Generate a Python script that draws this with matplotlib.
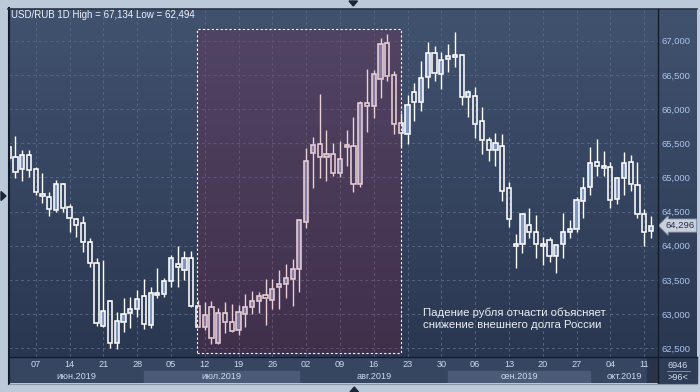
import numpy as np
import pandas as pd
import matplotlib
matplotlib.use("Agg")
import matplotlib.pyplot as plt
from matplotlib.patches import Rectangle, Polygon
from matplotlib.lines import Line2D
from matplotlib.colors import LinearSegmentedColormap
import matplotlib.transforms as mtransforms

plt.rcParams['font.family'] = ['Liberation Sans', 'DejaVu Sans']

# ========== данные (USD/RUB, дневные свечи) ==========
dates = pd.bdate_range("2019-06-03", "2019-10-14")

open_ = [65441, 65294, 65119, 65328, 65119, 64753, 64709, 64523, 64904, 64563,
         64387, 64329, 64051, 63744, 62827, 63192, 62571, 62881, 63010, 63071,
         63270, 62841, 63284, 63290, 63485, 63729, 63641, 63817, 63124, 62816,
         63100, 62582, 63012, 62892, 62761, 62998, 63109, 63185, 63280, 63211,
         63393, 63437, 63521, 63656, 64352, 65362, 65489, 65294, 65338, 65060,
         65441, 65460, 64899, 66084, 66040, 66435, 66962, 66498, 65789, 65631,
         66245, 66099, 66465, 66816, 66508, 66728, 66791, 66791, 66172, 66195,
         65830, 65543, 65397, 65455, 64841, 64022, 64022, 64304, 64206, 64026,
         64080, 63855, 64022, 64197, 64241, 64651, 64864, 65221, 65167, 65148,
         64680, 64987, 65221, 64889, 64461, 64221]
high = [65474, 65606, 65401, 65401, 65157, 65060, 64791, 64962, 64923, 64611,
        64411, 64436, 64118, 63826, 63792, 63207, 63031, 63241, 63251, 63353,
        63510, 63393, 63671, 63524, 63865, 63997, 63928, 63928, 63207, 63182,
        63192, 63090, 63173, 63148, 63134, 63290, 63339, 63324, 63507, 63514,
        63646, 63737, 63804, 64392, 65426, 65587, 66216, 65694, 65508, 65533,
        65689, 65884, 66118, 66586, 66571, 67044, 67094, 66557, 65938, 66206,
        66377, 66703, 66985, 66922, 66830, 66952, 67134, 66801, 66279, 66318,
        66030, 65591, 65645, 65640, 64929, 64168, 64475, 64548, 64450, 64124,
        64133, 64026, 64484, 64377, 64718, 65011, 65441, 65562, 65387, 65221,
        65011, 65368, 65328, 65221, 64538, 64436]
low = [65255, 64996, 64952, 65011, 64739, 64630, 64440, 64499, 64499, 64206,
       64133, 63913, 63694, 62827, 62816, 62500, 62494, 62743, 62797, 62958,
       62778, 62802, 63241, 63247, 63393, 63402, 63500, 63109, 62812, 62768,
       62559, 62559, 62720, 62743, 62695, 62812, 63002, 63010, 62834, 63068,
       63080, 63241, 63124, 63317, 64256, 64850, 64996, 64952, 65025, 65011,
       65171, 64791, 64864, 65669, 65865, 66166, 66415, 65640, 65449, 65485,
       65825, 65972, 66312, 66415, 66293, 66547, 66620, 66059, 65888, 65581,
       65347, 65240, 65171, 64660, 64279, 63671, 63899, 64109, 63817, 63719,
       63767, 63606, 63817, 64109, 64197, 64402, 64743, 65025, 65025, 64548,
       64616, 64743, 64806, 64402, 64001, 64118]
close = [65280, 65084, 65328, 65104, 64782, 64724, 64534, 64904, 64557, 64402,
         64308, 64060, 63744, 62866, 63039, 62574, 62895, 62999, 63072, 63217,
         62851, 63305, 63305, 63485, 63814, 63685, 63817, 63124, 62816, 62988,
         62647, 63012, 62892, 62756, 63027, 63100, 63188, 63262, 63232, 63365,
         63438, 63524, 63656, 64373, 65240, 65474, 65294, 65338, 65060, 65265,
         65474, 64899, 66084, 66040, 66508, 66947, 66488, 65786, 65645, 66059,
         66099, 66450, 66816, 66523, 66718, 66776, 66757, 66172, 66245, 65777,
         65543, 65397, 65504, 64797, 64387, 64001, 64461, 64197, 64026, 63992,
         63855, 64011, 64197, 64241, 64665, 64841, 65207, 65171, 65142, 64665,
         64996, 65207, 64899, 64461, 64197, 64296]

price_ticks = [62500, 63000, 63500, 64000, 64500, 65000, 65500, 66000, 66500, 67000]
month_labels = ["июн.2019", "июл.2019", "авг.2019", "сен.2019", "окт.2019"]
title_text = "USD/RUB 1D High = 67,134 Low = 62,494"
note_text = "Падение рубля отчасти объясняет\nснижение внешнего долга России"
corner_top, corner_bottom = "6946", ">96<"

# ========== оформление ==========
W, H = 700, 392
def fx(px):
    return px / W
def fy(py):
    return 1 - py / H

x_lim = (0.05, 96.0)
y_lim = (62380, 67464)
hl_x = (27.9, 58.0)          # выделенная область
hl_y = (62426, 67168)

outer_col = '#bcc9d9'
bar_col = '#364560'
band_col = '#4a5a77'
grid_col = '#55657f'
up_col = '#7f96c0'
txt_col = '#c8d9ef'
price_col = '#a9c5ea'

fig = plt.figure(figsize=(W / 100, H / 100), dpi=100)
fig.patch.set_facecolor(outer_col)

# фон с градиентом (график + правая шкала)
bg = fig.add_axes([fx(9), fy(356.5), fx(697) - fx(9), fy(9) - fy(356.5)])
bg.axis('off')
cmap = LinearSegmentedColormap.from_list('bg', ['#2a3751', '#41526f'])
bg.imshow(np.linspace(0, 1, 256)[:, None], aspect='auto', cmap=cmap,
          origin='lower', extent=[0, 1, 0, 1])
bg.set_xlim(0, 1)
bg.set_ylim(0, 1)

# ========== основной график ==========
ax = fig.add_axes([fx(9), fy(356.5), fx(657.7) - fx(9), fy(9) - fy(356.5)])
ax.set_facecolor('none')
ax.set_xlim(*x_lim)
ax.set_ylim(*y_lim)
for s in ax.spines.values():
    s.set_visible(False)

idx = np.arange(len(dates))
o = np.array(open_, dtype=float)
c = np.array(close, dtype=float)
hi = np.array(high, dtype=float)
lo = np.array(low, dtype=float)
up = c >= o
top = np.maximum(o, c)
bot = np.minimum(o, c)

fridays = [i for i, d in enumerate(dates) if d.weekday() == 4]
ax.set_xticks(fridays)
ax.set_yticks(price_ticks, labels=[f"{v:,}" for v in price_ticks])
ax.grid(True, color=grid_col, ls=(0, (3, 3)), lw=0.7, zorder=1)
ax.set_axisbelow(True)
ax.tick_params(axis='x', length=0, labelbottom=False)
ax.yaxis.tick_right()
ax.tick_params(axis='y', length=0, pad=2.5, labelsize=6.8, labelcolor=price_col)

# свечи
ax.vlines(idx, top, hi, color='white', lw=1.0, zorder=3)
ax.vlines(idx, lo, bot, color='white', lw=1.0, zorder=3)
faces = [up_col if u else (0, 0, 0, 0) for u in up]
ax.bar(idx, top - bot, bottom=bot, width=0.62, color=faces,
       edgecolor='white', linewidth=1.15, zorder=4)

# выделенная область
ax.add_patch(Rectangle((hl_x[0], hl_y[0]), hl_x[1] - hl_x[0], hl_y[1] - hl_y[0],
                       facecolor=(0.6, 0.07, 0.22, 0.2), edgecolor='none', zorder=5))
ax.add_patch(Rectangle((hl_x[0], hl_y[0]), hl_x[1] - hl_x[0], hl_y[1] - hl_y[0],
                       facecolor='none', edgecolor='white', ls=(0, (2, 2)),
                       lw=0.8, zorder=6))

# метка текущей цены
trans = mtransforms.blended_transform_factory(ax.transAxes, ax.transData)
ax.text(1.012, c[-1], f"{int(c[-1]):,}", transform=trans, ha='left', va='center',
        fontsize=6.8, color='#22304a', clip_on=False, zorder=10,
        bbox=dict(boxstyle='larrow,pad=0.22', fc='#c9d0db', ec='#8190a6', lw=0.6))

# ========== шкала дат ==========
dax = fig.add_axes([fx(9), fy(383.3), fx(657.7) - fx(9), fy(356.5) - fy(383.3)])
dax.set_xlim(*x_lim)
dax.set_ylim(0, 1)
dax.axis('off')
dax.add_patch(Rectangle((0, 0), 1, 1, transform=dax.transAxes, color=bar_col, zorder=0))

month_start = [0] + [i for i in range(1, len(dates)) if dates[i].month != dates[i - 1].month]
edges = [x_lim[0]] + month_start[1:] + [x_lim[1]]
for k, lbl in enumerate(month_labels):
    left, right = edges[k], edges[k + 1]
    if k % 2 == 1:
        dax.add_patch(Rectangle((left, 0), right - left, 0.46, color=band_col, zorder=1))
    dax.text((left + right) / 2, 0.25, lbl, ha='center', va='center',
             fontsize=6.6, color=txt_col, zorder=3)
dax.add_patch(Rectangle((idx[-1] - 0.6, 0), x_lim[1] - idx[-1] + 0.6, 1,
                        color='#29344b', zorder=2))
for i in fridays:
    dax.text(i, 0.69, dates[i].strftime('%d'), ha='center', va='center',
             fontsize=6.6, color=txt_col, zorder=3)

# угол справа внизу
fig.add_artist(Rectangle((fx(657.7), fy(383.3)), fx(697) - fx(657.7), fy(356.5) - fy(383.3),
                         transform=fig.transFigure, color='#2f3c55', zorder=0))
fig.text(fx(678), fy(365), corner_top, ha='center', va='center', fontsize=6.6, color='#d2dcea')
fig.text(fx(678), fy(377.5), corner_bottom, ha='center', va='center', fontsize=6.6, color='#d2dcea')
fig.add_artist(Line2D([fx(667), fx(690)], [fy(371), fy(371)], color='#8c9ab0', lw=0.6))

# рамки
frame = '#151c29'
fig.add_artist(Line2D([fx(8.5), fx(8.5)], [fy(8), fy(384)], color=frame, lw=1.5))
fig.add_artist(Line2D([fx(8), fx(697)], [fy(8.5), fy(8.5)], color='#2a3347', lw=1.2))
fig.add_artist(Line2D([fx(657.7), fx(657.7)], [fy(9), fy(383.3)], color=frame, lw=1.0))
fig.add_artist(Line2D([fx(9), fx(697)], [fy(356.5), fy(356.5)], color=frame, lw=1.0))
fig.add_artist(Line2D([fx(9), fx(697)], [fy(383.8), fy(383.8)], color='#8896aa', lw=0.8))

# маркеры на рамке
mk = '#1d2638'
fig.add_artist(Polygon([[fx(349), fy(1)], [fx(357.5), fy(1)], [fx(353.3), fy(6)]],
                       closed=True, transform=fig.transFigure, color=mk))
fig.add_artist(Polygon([[fx(350), fy(392)], [fx(358.5), fy(392)], [fx(354.3), fy(387)]],
                       closed=True, transform=fig.transFigure, color=mk))
fig.add_artist(Polygon([[fx(1), fy(191.5)], [fx(1), fy(200.5)], [fx(6), fy(196)]],
                       closed=True, transform=fig.transFigure, color=mk))

# подписи
fig.text(fx(11), fy(15), title_text, ha='left', va='center', fontsize=7.0, color='#edf2f9')
fig.text(fx(422.7), fy(319), note_text, ha='left', va='center', fontsize=8.2,
         color='#e8edf5', linespacing=1.2)

fig.savefig("out.png", dpi=100, facecolor=fig.get_facecolor())
